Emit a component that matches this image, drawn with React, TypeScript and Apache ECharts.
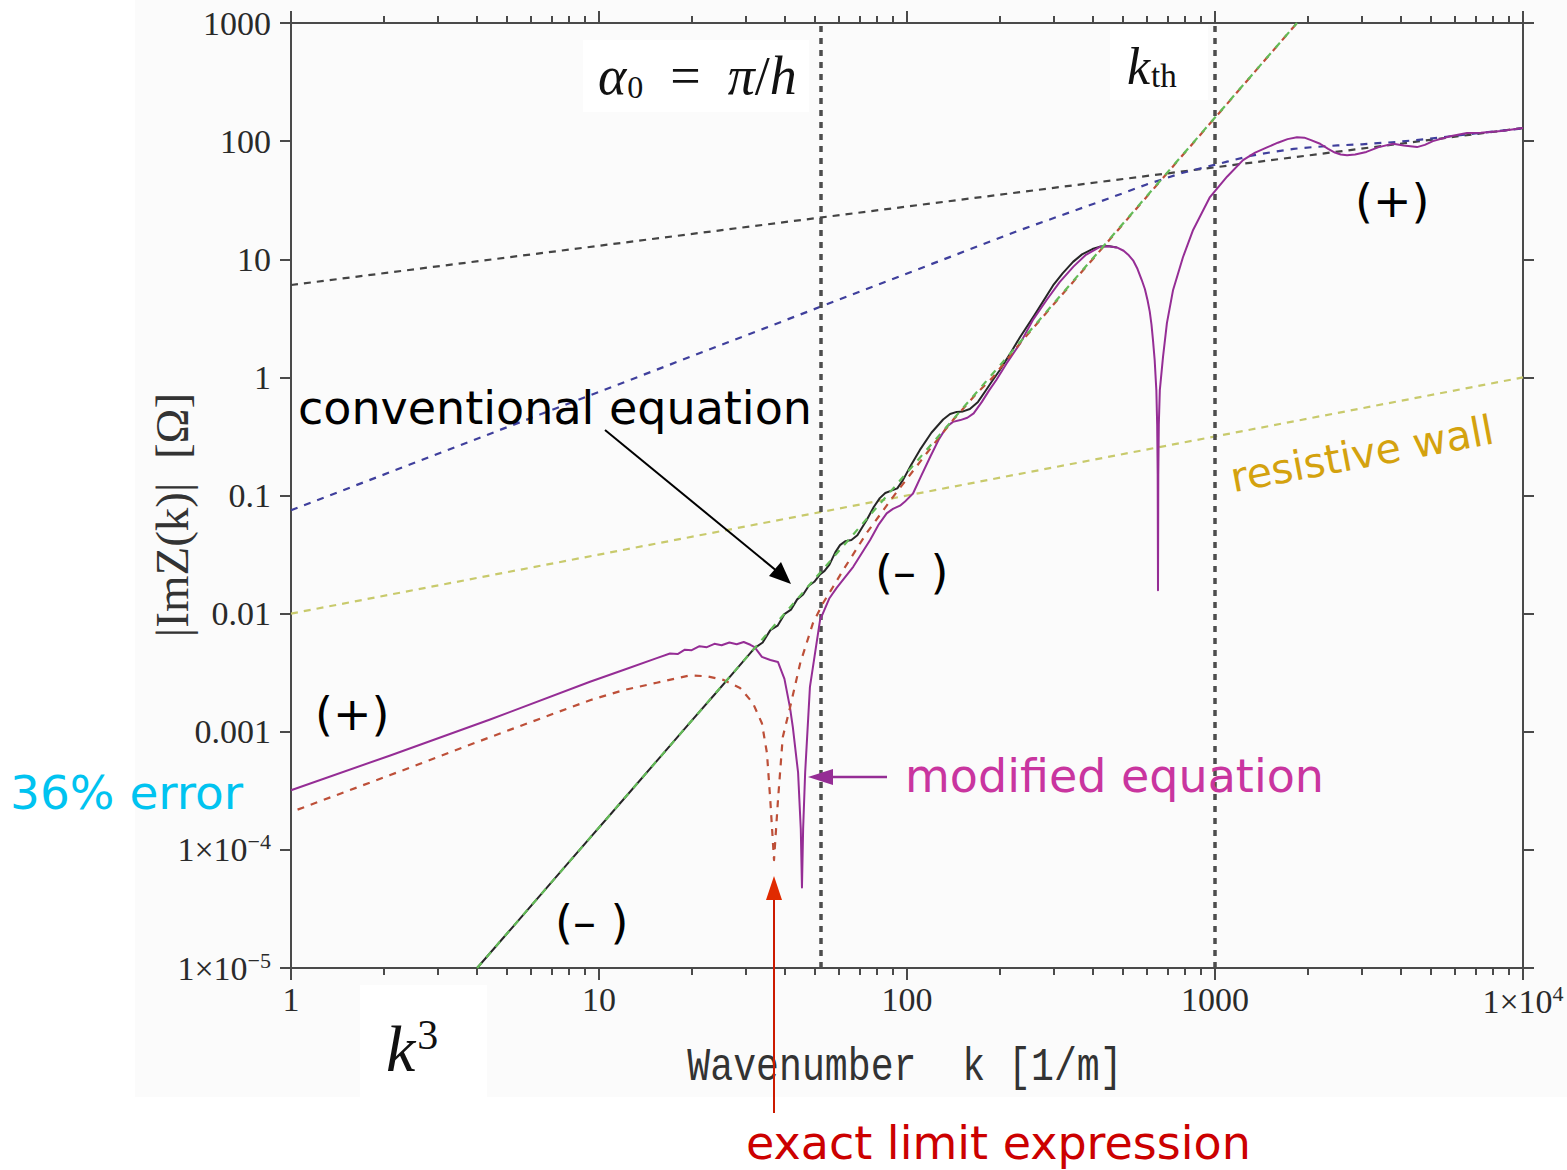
import React, { useEffect, useRef } from "react";
import * as echarts from "echarts";

type Pt = [number, number];

// |Im Z(k)| [Ω] against wavenumber k [1/m]
const resistiveWall: Pt[] = [[1, 0.01], [10000, 1]];
const oneThirdLaw: Pt[] = [[1, 6.05], [10000, 129]];
const blueAsymptote: Pt[] = [
  [1, 0.075], [228, 17.3], [360, 26.5], [456, 33], [600, 43], [787, 54], [950, 61],
  [1094, 67], [1300, 75], [1543, 81], [1800, 86], [2080, 89], [2500, 92], [3000, 94],
  [4000, 99], [5000, 105], [7000, 116], [10000, 128],
];
const cubicLaw: Pt[] = [[4.02, 1e-5], [1846, 1000]];

const conventionalEq: Pt[] = [
  [4.02, 1.0e-5], [8, 7.9e-5], [12, 2.67e-4], [16, 6.35e-4], [20, 1.24e-3],
  [24, 2.14e-3], [28, 3.4e-3], [32, 5.1e-3], [34, 5.7e-3], [36, 7.25e-3],
  [38, 7.9e-3], [40, 9.9e-3], [42, 1.08e-2], [44, 1.32e-2], [46, 1.45e-2],
  [48, 1.72e-2], [50, 1.86e-2], [52.2, 2.15e-2], [54, 2.3e-2], [56, 2.6e-2],
  [58.5, 0.033], [60.6, 0.038], [63, 0.041], [66, 0.042], [69, 0.046], [74, 0.062],
  [78, 0.08], [81.6, 0.095], [85, 0.105], [89, 0.11], [93, 0.115], [97, 0.135],
  [103, 0.18], [110, 0.242], [120, 0.34], [131, 0.44], [138, 0.49], [145, 0.51],
  [152, 0.515], [160, 0.54], [170, 0.62], [180, 0.77], [190, 0.95], [200, 1.15],
  [215, 1.55], [233, 2.2], [260, 3.4], [298, 6.0], [320, 7.6], [346, 9.5],
  [370, 11.0], [400, 12.2], [423, 12.8], [450, 12.95], [480, 12.6],
];

const modifiedEq: Pt[] = [
  [1, 3.2e-4], [2.1, 6.3e-4], [4.43, 1.27e-3], [9.35, 2.65e-3], [12, 3.33e-3],
  [15.4, 4.2e-3], [17, 4.6e-3], [18, 4.55e-3], [19, 4.95e-3], [20, 4.9e-3],
  [21.2, 5.3e-3], [22.4, 5.2e-3], [23.7, 5.55e-3], [25, 5.4e-3], [26.5, 5.7e-3],
  [28, 5.5e-3], [29.5, 5.75e-3], [31, 5.45e-3], [32, 5.2e-3], [33.8, 4.3e-3],
  [36, 4.05e-3], [38.1, 3.9e-3], [40, 2.8e-3], [41.7, 1.6e-3], [42.6, 1.09e-3],
  [44.3, 4.5e-4], [45.2, 1.5e-4], [45.6, 4.8e-5], [46, 1.5e-4], [46.7, 4.5e-4],
  [48.4, 2.4e-3], [52.2, 8.8e-3], [56, 0.0135], [59.1, 0.0165], [66.9, 0.0249],
  [75.9, 0.042], [81, 0.057], [85.9, 0.0705], [90, 0.077], [94.9, 0.082], [99, 0.09],
  [104.6, 0.104], [111, 0.145], [119, 0.213], [127, 0.3], [134.6, 0.382], [141, 0.42],
  [149, 0.435], [157, 0.455], [164.6, 0.495], [175, 0.62], [185, 0.78], [195, 0.95],
  [210, 1.3], [233, 1.94], [256, 3.05], [284, 4.52], [313, 6.4], [347, 8.66],
  [381, 10.9], [423, 12.7], [450, 12.9], [480, 12.6], [505, 11.8], [525, 10.8],
  [542, 9.8], [560, 8.3], [578, 6.7], [592, 5.6], [604, 4.5], [614, 3.6], [622, 2.8],
  [629, 2.07], [637, 1.4], [645, 0.78], [649, 0.4], [651.5, 0.15], [653, 0.0158],
  [654.5, 0.15], [657, 0.4], [662, 0.78], [678, 1.49], [698, 2.88], [731, 5.5],
  [787, 10.4], [849, 17.7], [963, 33.6], [1094, 50], [1233, 69], [1350, 80],
  [1475, 88.5], [1600, 97], [1720, 104], [1846, 108], [1950, 107], [2050, 102],
  [2193, 95], [2330, 86], [2450, 80], [2560, 77], [2684, 76], [2850, 77], [3100, 81],
  [3400, 89], [3785, 95], [4100, 92], [4528, 89], [4800, 93], [5100, 100], [5800, 110],
  [6580, 117], [7300, 118], [8500, 122], [10000, 129],
];

const exactLimit: Pt[] = [
  [1, 2.09e-4], [2.1, 4.3e-4], [4.43, 9.0e-4], [9.35, 1.85e-3], [12, 2.25e-3],
  [15.4, 2.6e-3], [19.7, 3.0e-3], [22.4, 2.95e-3], [25.3, 2.75e-3], [28.7, 2.35e-3],
  [31.6, 1.75e-3], [33.8, 1.18e-3], [35.1, 6.6e-4], [36.0, 2.6e-4], [37.0, 8.2e-5],
  [38.1, 2.6e-4], [39.5, 9.0e-4], [41.7, 1.6e-3], [45, 3.8e-3], [49.5, 8.3e-3],
  [53.4, 0.0123], [57.5, 0.0168], [62, 0.0233], [73.9, 0.048], [90, 0.097],
  [116, 0.229], [141, 0.435], [169, 0.74], [190, 1.0], [233, 1.95], [1846, 1000],
];

// reference wavenumbers drawn as vertical dotted lines
const ALPHA0 = 52.4; // π/h
const K_TH = 1000;

const xMajorTicks = [1, 10, 100, 1000, 10000];
const xMinorTicks = [
  2, 3, 4, 5, 6, 7, 8, 9,
  20, 30, 40, 50, 60, 70, 80, 90,
  200, 300, 400, 500, 600, 700, 800, 900,
  2000, 3000, 4000, 5000, 6000, 7000, 8000, 9000,
];
const xTickLabels = ["1", "10", "100", "1000", "1×10{sup|4}"];
const yMajorTicks = [1e-5, 1e-4, 0.001, 0.01, 0.1, 1, 10, 100, 1000];
const yTickLabels = [
  "1×10{sup|−5}", "1×10{sup|−4}", "0.001", "0.01", "0.1", "1", "10", "100", "1000",
];

const SANS = '"DejaVu Sans", sans-serif';
const SERIF = '"Liberation Serif", "Times New Roman", serif';
const MONO = '"Liberation Mono", monospace';
const AXIS_COLOR = "#4a4a4a";
const TICK_TEXT = "#2a2a2a";

function pickLabel(ticks: number[], labels: string[]) {
  return (v: number) => {
    const i = ticks.findIndex((t) => Math.abs(Math.log10(t) - Math.log10(v)) < 0.01);
    return i >= 0 ? labels[i] : "";
  };
}

const supRich = {
  sup: { fontFamily: SERIF, fontSize: 22, color: TICK_TEXT, padding: [0, 0, 16, 0] },
};

function note(text: string, x: number, y: number, size: number, color: string) {
  return {
    type: "text",
    x,
    y,
    z: 30,
    style: {
      text,
      fill: color,
      fontFamily: SANS,
      fontSize: size,
      textAlign: "left",
      textVerticalAlign: "middle",
      align: "left",
      verticalAlign: "middle",
    },
  };
}

function arrowHead(points: number[][], color: string) {
  return { type: "polygon", z: 30, shape: { points }, style: { fill: color } };
}

function buildOption(): any {
  const xBase = {
    type: "log",
    logBase: 10,
    min: 1,
    max: 10000,
    splitLine: { show: false },
    minorTick: { show: false },
    minorSplitLine: { show: false },
  };
  const yBase = {
    type: "log",
    logBase: 10,
    min: 1e-5,
    max: 1000,
    splitLine: { show: false },
    minorTick: { show: false },
    minorSplitLine: { show: false },
  };
  const line = { show: true, lineStyle: { color: AXIS_COLOR, width: 2 } };
  const tick = (values: number[], length: number) => ({
    show: true,
    customValues: values,
    length,
    inside: false,
    lineStyle: { color: AXIS_COLOR, width: 2 },
  });

  const curve = (
    name: string,
    data: Pt[],
    color: string,
    width: number,
    dash: any,
    z: number,
    extra: any = {},
    lineExtra: any = {}
  ) => ({
    type: "line",
    name,
    data,
    showSymbol: false,
    symbol: "none",
    silent: true,
    z,
    ...extra,
    lineStyle: { color, width, type: dash, join: "round", ...lineExtra },
  });

  const latex = {
    i: { fontFamily: SERIF, fontStyle: "italic", fontSize: 54, fill: "#111" },
    r: { fontFamily: SERIF, fontSize: 54, fill: "#111" },
  };

  return {
    animation: false,
    backgroundColor: "#ffffff",
    grid: { left: 291, right: 44, top: 23, bottom: 202, containLabel: false, outerBoundsMode: "none" },
    xAxis: [
      {
        ...xBase,
        position: "bottom",
        axisLine: line,
        axisTick: tick(xMajorTicks, 12),
        axisLabel: {
          customValues: xMajorTicks,
          formatter: pickLabel(xMajorTicks, xTickLabels),
          margin: 14,
          fontFamily: SERIF,
          fontSize: 34,
          color: TICK_TEXT,
          rich: supRich,
        },
      },
      { ...xBase, position: "bottom", axisLine: { show: false }, axisTick: tick(xMinorTicks, 7), axisLabel: { show: false } },
      { ...xBase, position: "top", axisLine: line, axisTick: tick(xMajorTicks, 12), axisLabel: { show: false } },
      { ...xBase, position: "top", axisLine: { show: false }, axisTick: tick(xMinorTicks, 7), axisLabel: { show: false } },
    ],
    yAxis: [
      {
        ...yBase,
        position: "left",
        axisLine: line,
        axisTick: tick(yMajorTicks, 11),
        axisLabel: {
          customValues: yMajorTicks,
          formatter: pickLabel(yMajorTicks, yTickLabels),
          margin: 20,
          fontFamily: SERIF,
          fontSize: 34,
          color: TICK_TEXT,
          rich: supRich,
        },
      },
      { ...yBase, position: "right", axisLine: line, axisTick: tick(yMajorTicks, 11), axisLabel: { show: false } },
    ],
    series: [
      curve("resistive wall", resistiveWall, "#c8ca6c", 2.2, [7, 6], 2, {
        markLine: {
          silent: true,
          symbol: ["none", "none"],
          label: { show: false },
          lineStyle: { color: "#4d4d4d", width: 3.5, type: [6, 6] },
          data: [{ xAxis: ALPHA0 }, { xAxis: K_TH }],
        },
      }),
      curve("k^(1/3)", oneThirdLaw, "#444444", 2.2, [7, 6], 3),
      curve("blue asymptote", blueAsymptote, "#3f3f9c", 2.2, [7, 7], 3),
      curve("conventional equation", conventionalEq, "#262626", 2, "solid", 4),
      curve("modified equation", modifiedEq, "#952d95", 2, "solid", 5),
      curve("exact limit expression", exactLimit, "#bd4f38", 2.2, [7, 7], 6, {}, { dashOffset: 7 }),
      curve("k^3", cubicLaw, "#63bb57", 2.2, [7, 7], 6),
    ],
    graphic: [
      // slightly grey picture area behind the plot
      { type: "rect", z: -10, shape: { x: 135, y: 0, width: 1432, height: 1097 }, style: { fill: "#fbfbfb" } },
      // formula boxes
      { type: "rect", z: 20, shape: { x: 583, y: 40, width: 226, height: 72 }, style: { fill: "#ffffff" } },
      { type: "rect", z: 20, shape: { x: 1110, y: 25, width: 98, height: 75 }, style: { fill: "#ffffff" } },
      { type: "rect", z: 20, shape: { x: 360, y: 985, width: 127, height: 112 }, style: { fill: "#ffffff" } },
      {
        type: "text",
        x: 598,
        y: 76,
        z: 30,
        style: {
          text: "{i|α}{s|0}{r|  =  }{i|π}{r|/}{i|h}",
          rich: { ...latex, s: { fontFamily: SERIF, fontSize: 32, fill: "#111", padding: [22, 0, 0, 1] } },
          textAlign: "left",
          textVerticalAlign: "middle",
          align: "left",
          verticalAlign: "middle",
        },
      },
      {
        type: "text",
        x: 1127,
        y: 66,
        z: 30,
        style: {
          text: "{i|k}{s|th}",
          rich: {
            i: { fontFamily: SERIF, fontStyle: "italic", fontSize: 52, fill: "#111" },
            s: { fontFamily: SERIF, fontSize: 33, fill: "#111", padding: [20, 0, 0, 1] },
          },
          textAlign: "left",
          textVerticalAlign: "middle",
          align: "left",
          verticalAlign: "middle",
        },
      },
      {
        type: "text",
        x: 386,
        y: 1048,
        z: 30,
        style: {
          text: "{k|k}{p|3}",
          rich: {
            k: { fontFamily: SERIF, fontStyle: "italic", fontSize: 66, fill: "#111" },
            p: { fontFamily: SERIF, fontSize: 42, fill: "#111", padding: [0, 0, 26, 2] },
          },
          textAlign: "left",
          textVerticalAlign: "middle",
          align: "left",
          verticalAlign: "middle",
        },
      },
      // axis titles
      {
        type: "text",
        x: 172,
        y: 515,
        z: 30,
        rotation: Math.PI / 2,
        style: {
          text: "|ImZ(k)|  [Ω]",
          fill: "#333",
          fontFamily: SERIF,
          fontSize: 47,
          textAlign: "center",
          textVerticalAlign: "middle",
          align: "center",
          verticalAlign: "middle",
        },
      },
      {
        type: "text",
        x: 905,
        y: 1068,
        z: 30,
        scaleX: 0.83,
        style: {
          text: "Wavenumber  k [1/m]",
          fill: "#333",
          fontFamily: MONO,
          fontSize: 46,
          textAlign: "center",
          textVerticalAlign: "middle",
          align: "center",
          verticalAlign: "middle",
        },
      },
      // annotations
      note("conventional equation", 298, 408, 46, "#000000"),
      note("modified equation", 905, 776, 46, "#c9359f"),
      note("exact limit expression", 746, 1143, 46, "#cc0000"),
      note("36% error", 10, 792, 47, "#00c3f0"),
      note("(+)", 315, 714, 46, "#000000"),
      note("(+)", 1355, 201, 46, "#000000"),
      note("(– )", 875, 572, 46, "#000000"),
      note("(– )", 555, 922, 46, "#000000"),
      {
        type: "text",
        x: 1362,
        y: 454,
        z: 30,
        rotation: 0.185,
        style: {
          text: "resistive wall",
          fill: "#d4a20e",
          fontFamily: SANS,
          fontSize: 41,
          textAlign: "center",
          textVerticalAlign: "middle",
          align: "center",
          verticalAlign: "middle",
        },
      },
      // pointer arrows
      { type: "line", z: 30, shape: { x1: 605, y1: 430, x2: 778, y2: 572 }, style: { stroke: "#000", lineWidth: 2 } },
      arrowHead([[791, 584], [769, 576], [781, 562]], "#000"),
      { type: "line", z: 30, shape: { x1: 887, y1: 777, x2: 828, y2: 777 }, style: { stroke: "#952d95", lineWidth: 2.5 } },
      arrowHead([[808, 777], [833, 769], [833, 785]], "#952d95"),
      { type: "line", z: 30, shape: { x1: 774, y1: 1113, x2: 774, y2: 895 }, style: { stroke: "#cc1a00", lineWidth: 2 } },
      arrowHead([[774, 876], [766, 900], [782, 900]], "#e02a00"),
    ],
  };
}

export default function App() {
  const ref = useRef<HTMLDivElement>(null);
  useEffect(() => {
    if (!ref.current) return;
    const chart = echarts.init(ref.current, undefined, { renderer: "svg" });
    chart.setOption(buildOption());
    return () => chart.dispose();
  }, []);
  return (
    <div
      ref={ref}
      style={{ position: "fixed", left: 0, top: 0, width: 1567, height: 1170, background: "#fff" }}
    />
  );
}
